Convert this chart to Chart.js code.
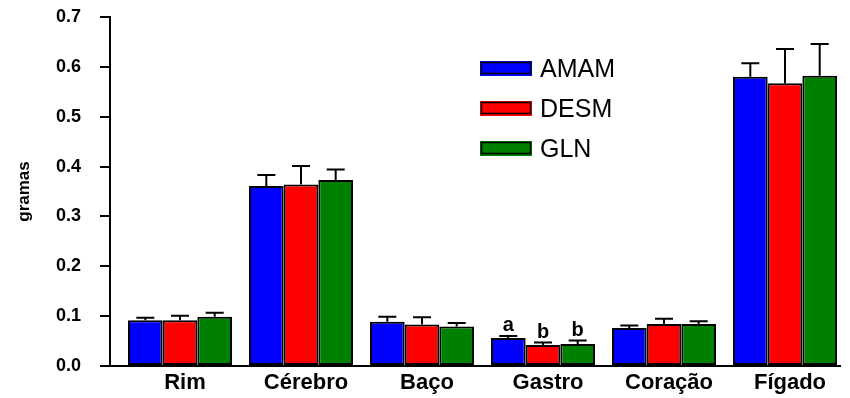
<!DOCTYPE html>
<html>
<head>
<meta charset="utf-8">
<script src="https://cdn.jsdelivr.net/npm/chart.js@4/dist/chart.umd.min.js"></script>
<style>
  html, body { margin: 0; padding: 0; background: #fff; }
  #wrap { width: 850px; height: 398px; }
</style>
</head>
<body>
<div id="wrap"><canvas id="chart"></canvas></div>
<script>
const categories = ['Rim', 'Cérebro', 'Baço', 'Gastro', 'Coração', 'Fígado'];
const amam = [0.092, 0.361, 0.089, 0.056, 0.076, 0.580];
const desm = [0.092, 0.364, 0.083, 0.042, 0.084, 0.567];
const gln = [0.099, 0.373, 0.079, 0.044, 0.084, 0.582];
const amamErr = [0.005, 0.022, 0.010, 0.004, 0.005, 0.027];
const desmErr = [0.009, 0.037, 0.015, 0.005, 0.011, 0.069];
const glnErr = [0.008, 0.021, 0.007, 0.007, 0.006, 0.064];
// significance letters, only on Gastro
const letters = [['', '', '', 'a', '', ''], ['', '', '', 'b', '', ''], ['', '', '', 'b', '', '']];
const yTicks = [0, 0.1, 0.2, 0.3, 0.4, 0.5, 0.6, 0.7];

const FONT = "'Liberation Sans', Arial, sans-serif";

const toPoints = (vals) => vals.map((v, i) => ({ x: i + 1, y: v }));

const makeSet = (label, vals, err, color) => ({
  label,
  data: toPoints(vals),
  errors: err,
  backgroundColor: color,
  borderColor: '#000',
  borderWidth: 2,
  borderSkipped: false,
  categoryPercentage: 0.86,
  barPercentage: 1.0,
});

const errorBars = {
  id: 'errorBars',
  afterDatasetsDraw(chart) {
    const { ctx } = chart;
    const y = chart.scales.y;
    ctx.save();
    ctx.strokeStyle = '#000';
    ctx.lineWidth = 2;
    chart.data.datasets.forEach((ds, di) => {
      const meta = chart.getDatasetMeta(di);
      meta.data.forEach((bar, i) => {
        const top = y.getPixelForValue(ds.data[i].y + ds.errors[i]);
        ctx.beginPath();
        ctx.moveTo(bar.x, bar.y);
        ctx.lineTo(bar.x, top);
        ctx.moveTo(bar.x - 9, top);
        ctx.lineTo(bar.x + 9, top);
        ctx.stroke();
        const txt = letters[di][i];
        if (txt) {
          ctx.fillStyle = '#000';
          ctx.font = 'bold 20px ' + FONT;
          ctx.textAlign = 'center';
          ctx.textBaseline = 'alphabetic';
          ctx.fillText(txt, bar.x, top - 5);
        }
      });
    });
    ctx.restore();
  },
};

const boxLegend = {
  id: 'boxLegend',
  afterDraw(chart) {
    const { ctx } = chart;
    ctx.save();
    chart.data.datasets.forEach((ds, di) => {
      const top = 61 + di * 40;
      ctx.fillStyle = ds.backgroundColor;
      ctx.fillRect(480, top, 52, 15);
      ctx.strokeStyle = '#000';
      ctx.lineWidth = 1.5;
      ctx.strokeRect(481.5, top + 1.5, 49, 11);
      ctx.fillStyle = '#000';
      ctx.font = '25px ' + FONT;
      ctx.textAlign = 'left';
      ctx.textBaseline = 'middle';
      ctx.fillText(ds.label, 540, top + 9);
    });
    ctx.restore();
  },
};

new Chart(document.getElementById('chart'), {
  type: 'bar',
  data: {
    datasets: [
      makeSet('AMAM', amam, amamErr, '#0000ff'),
      makeSet('DESM', desm, desmErr, '#ff0000'),
      makeSet('GLN', gln, glnErr, '#008000'),
    ],
  },
  options: {
    responsive: true,
    maintainAspectRatio: false,
    animation: false,
    layout: { padding: { top: 17, right: 10, left: 0, bottom: 0 } },
    plugins: {
      legend: { display: false },
      tooltip: { enabled: false },
    },
    scales: {
      x: {
        type: 'linear',
        offset: false,
        min: 0.4215,
        max: 6.4545,
        afterBuildTicks: (s) => { s.ticks = categories.map((c, i) => ({ value: i + 1 })); },
        afterFit: (s) => { s.height = 32; },
        grid: { display: false, drawTicks: false, offset: false },
        border: { display: true, color: '#000', width: 2 },
        ticks: {
          color: '#000',
          padding: 4,
          labelOffset: 5,
          autoSkip: false,
          maxRotation: 0,
          font: { family: FONT, size: 22, weight: 'bold' },
          callback: (v) => categories[v - 1],
        },
      },
      y: {
        min: 0,
        max: 0.7,
        afterBuildTicks: (s) => { s.ticks = yTicks.map((v) => ({ value: v })); },
        afterFit: (s) => {
          s.width = 110;
          s.paddingTop = 0;
          s.paddingBottom = 0;
        },
        grid: { drawOnChartArea: false, drawTicks: true, tickLength: 10, color: '#000', lineWidth: 2 },
        border: { display: true, color: '#000', width: 2 },
        ticks: {
          color: '#000',
          padding: 19,
          font: { family: FONT, size: 18, weight: 'bold' },
          callback: (v) => v.toFixed(1),
        },
        title: {
          display: true,
          text: 'gramas',
          color: '#000',
          padding: { top: 14 },
          font: { family: FONT, size: 17, weight: 'bold' },
        },
      },
    },
  },
  plugins: [errorBars, boxLegend],
});
</script>
</body>
</html>
